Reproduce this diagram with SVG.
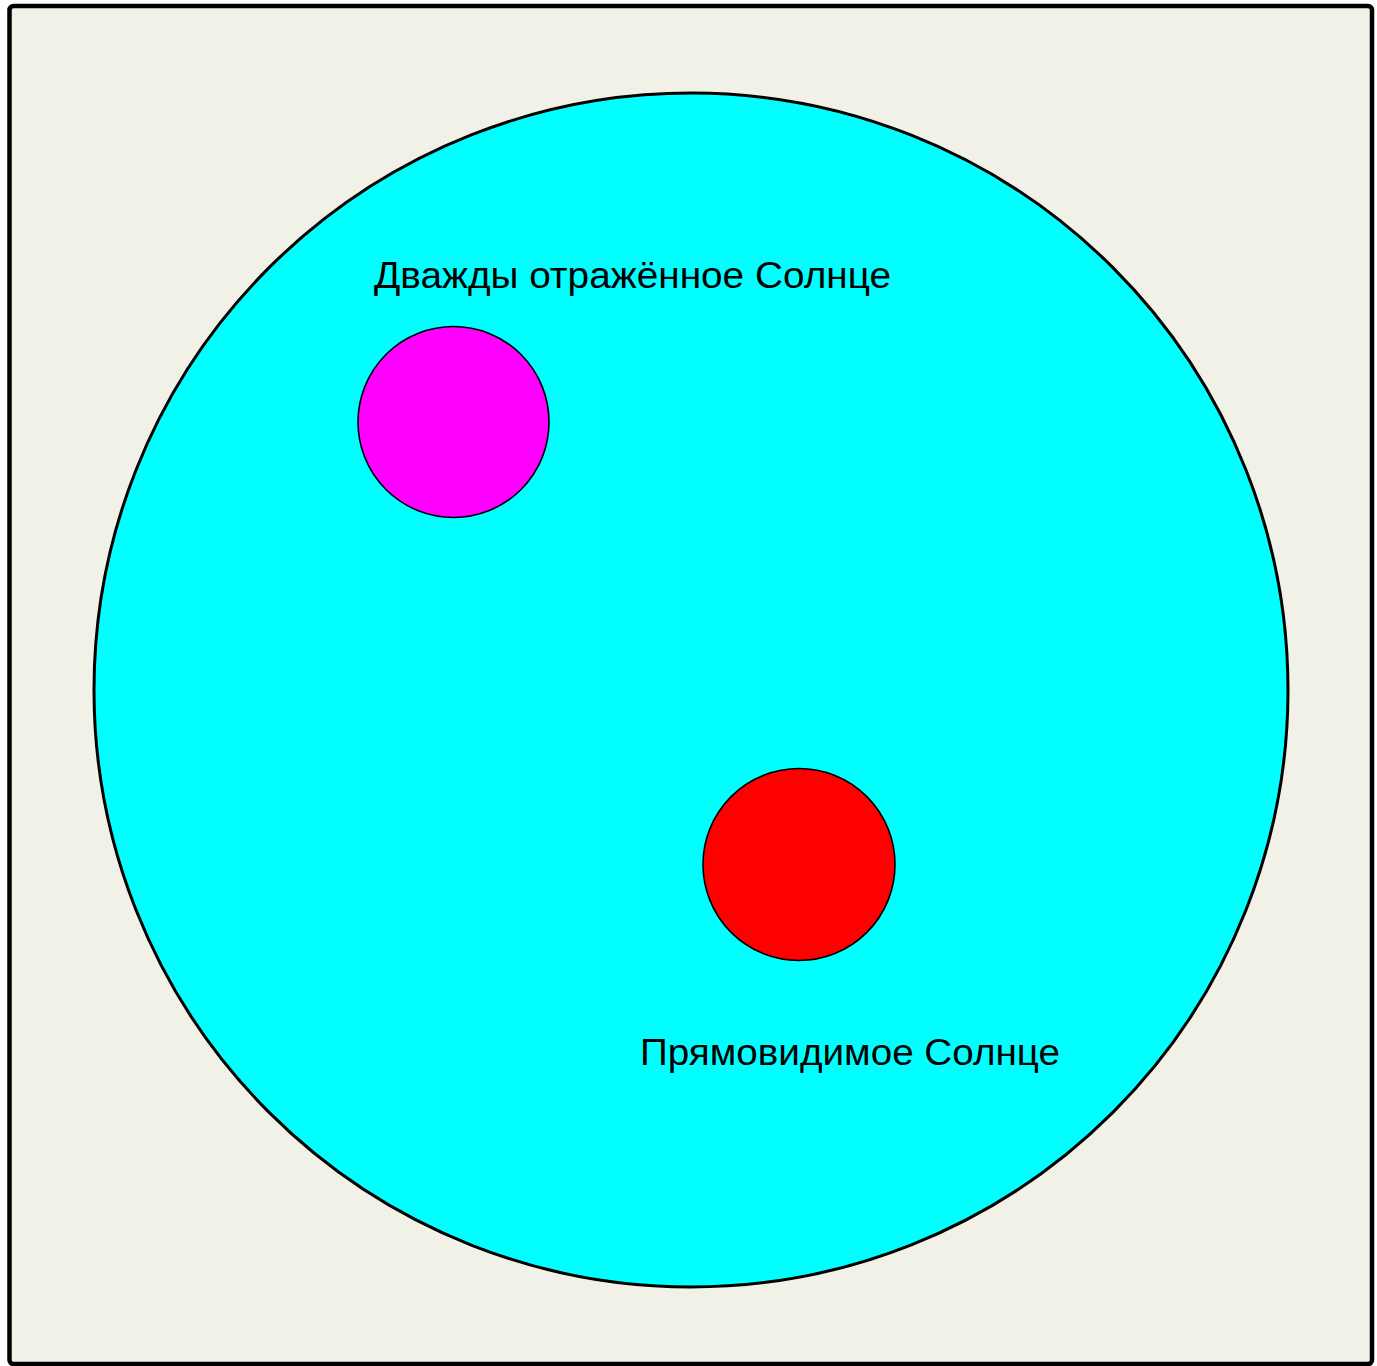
<svg xmlns="http://www.w3.org/2000/svg" width="1377" height="1366" viewBox="0 0 1377 1366">
<style>
.lbl{font-family:"Liberation Sans",Arial,sans-serif;font-size:36px;fill:#000}
.sun{stroke:#000;stroke-width:1.6}
</style>
<rect width="1377" height="1366" fill="#ffffff"/>
<g id="frame"><rect x="9.5" y="6" width="1362.5" height="1358" rx="4" fill="#f2f1e7" stroke="#000" stroke-width="4.5"/></g>
<g id="sky"><circle cx="691" cy="690" r="597" fill="#00ffff" stroke="#000" stroke-width="3"/></g>
<g id="double-reflected"><circle class="sun" cx="453.5" cy="422" r="95.5" fill="#ff00ff"/>
<text class="lbl" x="374" y="288" textLength="517" lengthAdjust="spacingAndGlyphs">Дважды отражённое Солнце</text></g>
<g id="direct"><circle class="sun" cx="799" cy="864.5" r="96" fill="#ff0000"/>
<text class="lbl" x="640" y="1065" textLength="420" lengthAdjust="spacingAndGlyphs">Прямовидимое Солнце</text></g>
<g id="connectors"></g>
</svg>
